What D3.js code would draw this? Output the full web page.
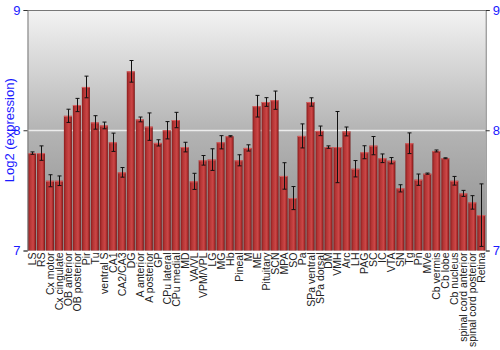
<!DOCTYPE html>
<html><head><meta charset="utf-8">
<script src="https://cdn.jsdelivr.net/npm/d3@7"></script>
<style>body{margin:0;background:#fff;} svg{display:block;}</style>
</head><body><svg id="c" width="500" height="350"></svg>
<script>
const categories = ["LS","RS","Cx motor","Cx cingulate","OB anterior","OB posterior","Pir","Tu","ventral S","CA1","CA2/CA3","DG","A anterior","A posterior","GP","CPu lateral","CPu medial","MD","VA/VL","VPM/VPL","LG","MG","Hb","Pineal","M","ME","Pituitary","SCN","MPA","SO","Pa","SPa ventral","SPa dorsal","DM","VMH","Arc","LH","PAG","SC","IC","VTA","SN","Tg","Pn","MVe","Cb vermis","Cb lobe","Cb nucleus","spinal cord anterior","spinal cord posterior","Retina"];
const values = [7.81,7.81,7.58,7.58,8.12,8.21,8.36,8.065,8.04,7.90,7.65,8.49,8.09,8.03,7.895,8.00,8.085,7.86,7.575,7.75,7.756,7.90,7.95,7.75,7.853,8.20,8.235,8.25,7.62,7.436,7.953,8.235,7.995,7.86,7.86,7.99,7.68,7.817,7.872,7.767,7.747,7.517,7.892,7.589,7.639,7.828,7.767,7.58,7.475,7.40,7.294];
const errors = [0.01,0.06,0.05,0.04,0.055,0.055,0.09,0.056,0.028,0.076,0.04,0.09,0.02,0.114,0.026,0.072,0.064,0.04,0.067,0.04,0.09,0.055,0.005,0.046,0.026,0.09,0.036,0.076,0.11,0.096,0.1,0.035,0.04,0.01,0.296,0.037,0.068,0.054,0.076,0.036,0.026,0.03,0.086,0.047,0.005,0.008,0.004,0.036,0.025,0.056,0.26];
const yTicks = [7,8,9];
const yTitle = "Log2 (expression)";

const svg = d3.select("#c");
const L = 27.5, R = 485.7, T = 10, B = 250.5;
const x = d3.scaleBand().domain(categories).range([L, R]).paddingInner(0.11).paddingOuter(0.05);
const y = d3.scaleLinear().domain([7, 9]).range([B, T]);

const defs = svg.append("defs");
const bg = defs.append("linearGradient").attr("id","bg").attr("x1",0).attr("y1",0).attr("x2",0).attr("y2",1);
bg.append("stop").attr("offset","0%").attr("stop-color","#f3f3f3");
bg.append("stop").attr("offset","50%").attr("stop-color","#b4b4b4");
bg.append("stop").attr("offset","100%").attr("stop-color","#8c8c8c");
const bar = defs.append("linearGradient").attr("id","bar").attr("x1",0).attr("y1",0).attr("x2",1).attr("y2",0);
bar.append("stop").attr("offset","0%").attr("stop-color","#8a1c1c");
bar.append("stop").attr("offset","25%").attr("stop-color","#b33434");
bar.append("stop").attr("offset","65%").attr("stop-color","#cc4747");
bar.append("stop").attr("offset","85%").attr("stop-color","#a82a2a");
bar.append("stop").attr("offset","100%").attr("stop-color","#6e1010");

svg.append("rect").attr("x",L).attr("y",T).attr("width",R-L).attr("height",B-T).attr("fill","url(#bg)");
svg.append("line").attr("x1",L).attr("x2",R).attr("y1",Math.round(y(8))+0.5).attr("y2",Math.round(y(8))+0.5)
  .attr("stroke","#ececec").attr("stroke-width",1.5);
svg.append("line").attr("x1",L).attr("x2",R).attr("y1",T+0.5).attr("y2",T+0.5).attr("stroke","#777");

svg.append("g").selectAll("rect").data(categories).join("rect")
  .attr("x", d => x(d)).attr("width", x.bandwidth())
  .attr("y", (d,i) => y(values[i])).attr("height", (d,i) => B - y(values[i]))
  .attr("fill","url(#bar)");
svg.append("g").selectAll("line").data(categories).join("line")
  .attr("x1", d => x(d)).attr("x2", d => x(d)+x.bandwidth())
  .attr("y1", (d,i) => y(values[i])+0.5).attr("y2", (d,i) => y(values[i])+0.5)
  .attr("stroke","#d86060").attr("stroke-width",1);

const eg = svg.append("g").attr("stroke","#111").attr("stroke-width",1);
categories.forEach((c,i) => {
  const cx = Math.round(x(c) + x.bandwidth()/2) + 0.5;
  const y1 = y(values[i]+errors[i]), y2 = y(values[i]-errors[i]);
  eg.append("line").attr("x1",cx).attr("x2",cx).attr("y1",y1).attr("y2",y2);
  eg.append("line").attr("x1",cx-2).attr("x2",cx+2).attr("y1",y1).attr("y2",y1);
  eg.append("line").attr("x1",cx-2).attr("x2",cx+2).attr("y1",y2).attr("y2",y2);
});

const la = svg.append("g").attr("transform",`translate(${L},0)`)
  .call(d3.axisLeft(y).tickValues(yTicks).tickSize(4).tickPadding(3).tickFormat(d3.format("d")));
const ra = svg.append("g").attr("transform",`translate(${R},0)`)
  .call(d3.axisRight(y).tickValues(yTicks).tickSize(4).tickPadding(3).tickFormat(d3.format("d")));
[la,ra].forEach(a => {
  a.select(".domain").attr("stroke","#777");
  a.selectAll(".tick line").attr("stroke","#333");
  a.selectAll("text").attr("fill","#1a1aff").style("font-family","Liberation Sans, Arial, sans-serif").style("font-size","13px");
});

svg.append("g").selectAll("text").data(categories).join("text")
  .attr("transform", d => `translate(${x(d)+x.bandwidth()/2+4},${B+2}) rotate(-90)`)
  .attr("text-anchor","end")
  .style("font-family","Liberation Sans, Arial, sans-serif").style("font-size","10.5px").attr("fill","#222")
  .text(d => d);

svg.append("text").attr("transform",`translate(11,${(T+B)/2}) rotate(-90)`)
  .attr("text-anchor","middle").attr("dominant-baseline","middle")
  .style("font-family","Liberation Sans, Arial, sans-serif").style("font-size","13px").attr("fill","#1a1aff")
  .text(yTitle);
</script></body></html>
